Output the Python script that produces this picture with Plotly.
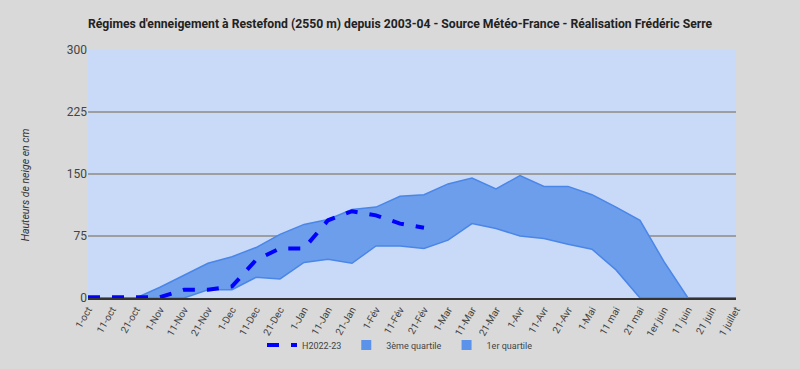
import plotly.graph_objects as go

categories = ["1-oct", "11-oct", "21-oct", "1-Nov", "11-Nov", "21-Nov", "1-Dec", "11-Dec",
              "21-Dec", "1-Jan", "11-Jan", "21-Jan", "1-Fév", "11-Fév", "21-Fév", "1-Mar",
              "11-Mar", "21-Mar", "1-Avr", "11-Avr", "21-Avr", "1-Mai", "11 mai", "21 mai",
              "1er juin", "11 juin", "21 juin", "1 juillet"]

q3 = [0, 0, 0, 13, 27, 42, 50, 61, 77, 89, 95, 107, 110, 123, 125, 138,
      145, 132, 148, 135, 135, 125, 110, 94, 44, 0, 0, 0]
q1 = [0, 0, 0, 0, 0, 10, 10, 25, 23, 43, 47, 42, 63, 63, 60, 70,
      90, 84, 75, 72, 65, 59, 34, 0, 0, 0, 0, 0]
h2022 = [1, 1, 1, 1, 10, 10, 14, 46, 60, 60, 94, 105, 100, 90, 85]

PLOT_BG = "#c9daf8"
BAND = "#6d9eeb"
LINE = "#4a86e8"

fig = go.Figure()
fig.add_trace(go.Scatter(x=categories, y=q3, mode="lines", fill="tozeroy",
                         fillcolor=BAND, line=dict(color=LINE, width=1.5),
                         showlegend=False, hoverinfo="skip"))
fig.add_trace(go.Scatter(x=categories, y=q1, mode="lines", fill="tozeroy",
                         fillcolor=PLOT_BG, line=dict(color=LINE, width=1.5),
                         showlegend=False, hoverinfo="skip"))
fig.add_trace(go.Scatter(x=categories[:len(h2022)], y=h2022, mode="lines",
                         name="H2022-23",
                         line=dict(color="#0000ff", width=4, dash="dash")))
fig.add_trace(go.Scatter(x=[None], y=[None], mode="markers", name="3ème quartile",
                         marker=dict(symbol="square", size=10, color="#5b92ea")))
fig.add_trace(go.Scatter(x=[None], y=[None], mode="markers", name="1er quartile",
                         marker=dict(symbol="square", size=10, color="#5b92ea")))

fig.add_annotation(text="<i>Hauteurs de neige en cm</i>", textangle=-90,
                   xref="paper", yref="paper", x=-0.097, y=0.455,
                   xanchor="center", yanchor="middle", showarrow=False,
                   font=dict(family="Roboto", size=10.5, color="#333"))

fig.update_layout(
    width=800, height=369,
    paper_bgcolor="#d9d9d9", plot_bgcolor=PLOT_BG,
    margin=dict(l=88, r=64, t=50, b=71, autoexpand=False),
    font=dict(family="Roboto", size=11, color="#444"),
    title=dict(text="<b>Régimes d'enneigement à Restefond (2550 m) depuis 2003-04 - Source Météo-France - Réalisation Frédéric Serre</b>",
               x=0.5, xanchor="center", y=0.935, yanchor="middle",
               font=dict(family="Roboto", size=12.2, color="#222")),
    xaxis=dict(type="category", range=[0, 27], tickangle=-60, showgrid=False,
               tickfont=dict(size=10, color="#444"), ticks="",
               showline=True, linecolor="#333", linewidth=2),
    yaxis=dict(range=[0, 300], tickvals=[0, 75, 150, 225, 300], showgrid=True,
               gridcolor="#9e9e9e", gridwidth=2, zeroline=True, zerolinecolor="#333",
               zerolinewidth=2, tickfont=dict(size=12, color="#444")),
    legend=dict(orientation="h", xref="container", yref="container",
                x=0.5, xanchor="center", y=0.065, yanchor="middle",
                font=dict(size=9, color="#444"), bgcolor="rgba(0,0,0,0)"),
)

fig.write_html("out.html", post_script="document.body.style.margin='0';",
               config={"displayModeBar": False})
